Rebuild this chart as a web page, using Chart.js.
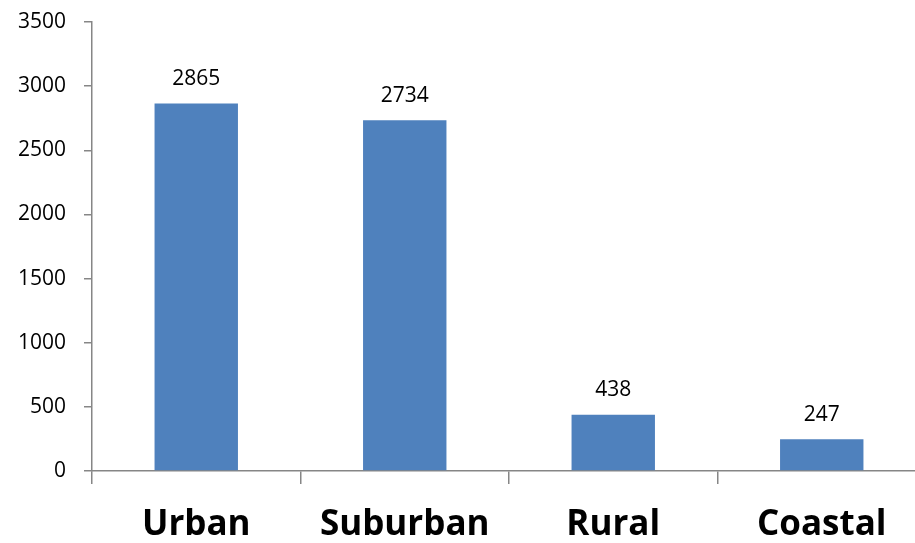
<!DOCTYPE html>
<html>
<head>
<meta charset="utf-8">
<script src="https://cdn.jsdelivr.net/npm/chart.js@4"></script>
<style>
  html, body { margin: 0; padding: 0; background: #fff; overflow: hidden; }
  #wrap { width: 926px; height: 543px; }
</style>
</head>
<body>
<div id="wrap"><canvas id="chart" width="926" height="543"></canvas></div>
<script>
const categories = ['Urban', 'Suburban', 'Rural', 'Coastal']
const counts = [2865, 2734, 438, 247]
const yTicks = [0, 500, 1000, 1500, 2000, 2500, 3000, 3500]

const AXIS_COLOR = '#868686'
const BAR_COLOR = '#4F81BD'

// value labels above each bar
const barLabels = {
  id: 'barLabels',
  afterDatasetsDraw(chart) {
    const ctx = chart.ctx
    const meta = chart.getDatasetMeta(0)
    ctx.save()
    ctx.font = '21px "Open Sans"'
    ctx.fillStyle = '#000'
    ctx.textAlign = 'center'
    ctx.textBaseline = 'bottom'
    meta.data.forEach((bar, i) => {
      ctx.fillText(String(counts[i]), bar.x, bar.y - 14)
    })
    ctx.restore()
  }
}

new Chart(document.getElementById('chart'), {
  type: 'bar',
  data: {
    labels: categories,
    datasets: [{
      data: counts,
      backgroundColor: BAR_COLOR,
      borderWidth: 0,
      barPercentage: 0.4,
      categoryPercentage: 1.0
    }]
  },
  options: {
    responsive: false,
    animation: false,
    layout: { padding: { top: 22, left: 0, right: 0, bottom: 0 } },
    plugins: {
      legend: { display: false },
      tooltip: { enabled: false }
    },
    scales: {
      x: {
        border: { color: AXIS_COLOR, width: 1.5 },
        grid: {
          offset: true,
          drawOnChartArea: false,
          drawTicks: true,
          tickLength: 13,
          color: AXIS_COLOR,
          lineWidth: 1.5
        },
        ticks: {
          color: '#000',
          font: { family: '"Open Sans"', size: 35, weight: 'bold' },
          padding: 20
        },
        afterFit(scale) { scale.height = 72 }
      },
      y: {
        min: 0,
        max: 3500,
        border: { color: AXIS_COLOR, width: 1.5 },
        grid: {
          drawOnChartArea: false,
          drawTicks: true,
          tickLength: 8,
          color: AXIS_COLOR,
          lineWidth: 1.5
        },
        afterBuildTicks(scale) {
          scale.ticks = yTicks.map(v => ({ value: v }))
        },
        ticks: {
          color: '#000',
          font: { family: '"Open Sans"', size: 21 },
          padding: 18,
          callback: (v) => String(v)
        },
        afterFit(scale) { scale.width = 92; scale.paddingTop = 0 }
      }
    }
  },
  plugins: [barLabels]
})
</script>
</body>
</html>
